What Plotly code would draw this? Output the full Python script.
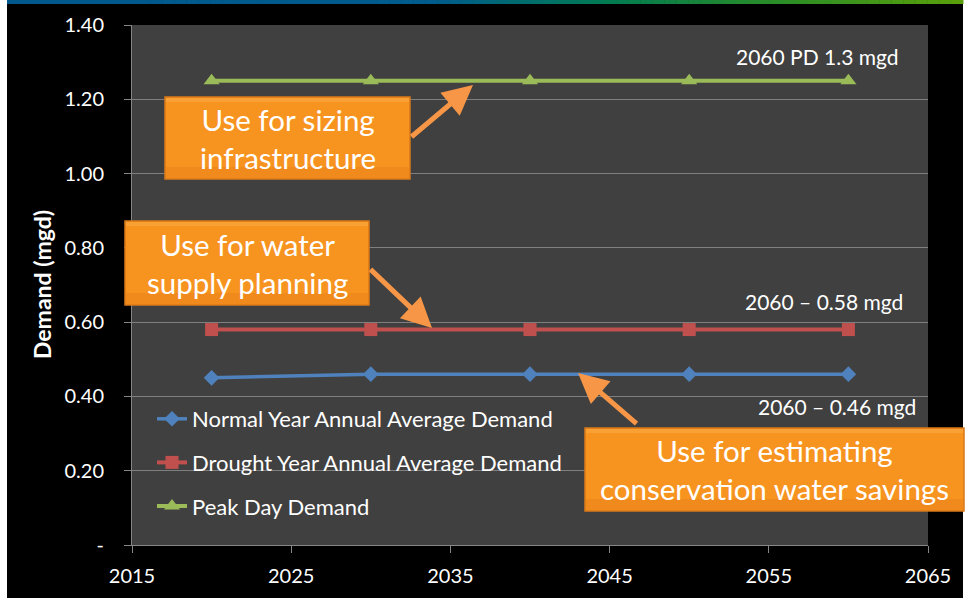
import plotly.graph_objects as go

years = [2020, 2030, 2040, 2050, 2060]
normal_year = [0.45, 0.46, 0.46, 0.46, 0.46]
drought_year = [0.58, 0.58, 0.58, 0.58, 0.58]
peak_day = [1.25, 1.25, 1.25, 1.25, 1.25]
series_names = ["Normal Year Annual Average Demand",
                "Drought Year Annual Average Demand",
                "Peak Day Demand"]
y_tickvals = [0, 0.2, 0.4, 0.6, 0.8, 1.0, 1.2, 1.4]
y_ticktext = ["-", "0.20", "0.40", "0.60", "0.80", "1.00", "1.20", "1.40"]
x_tickvals = [2015, 2025, 2035, 2045, 2055, 2065]

W, H = 969, 598
L, R, T, B = 132, 928, 25, 545
X0, X1, Y0, Y1 = 2015, 2065, 0, 1.4
FONT = "Lato"


def dx(px):
    return X0 + (px - L) / (R - L) * (X1 - X0)


def dy(py):
    return Y0 + (B - py) / (B - T) * (Y1 - Y0)


def px_(px):
    return (px - L) / (R - L)


def py_(py):
    return (B - py) / (B - T)


fig = go.Figure()
styles = [
    dict(color="#4F81BD", symbol="diamond", size=12, width=3.5),
    dict(color="#C0504D", symbol="square", size=13, width=4),
    dict(color="#9BBB59", symbol="triangle-up", size=14, width=4),
]
for i, (vals, st) in enumerate(zip([normal_year, drought_year, peak_day], styles)):
    fig.add_trace(go.Scatter(
        x=years, y=vals, name=series_names[i], mode="lines+markers",
        line=dict(color=st["color"], width=st["width"]),
        marker=dict(symbol=st["symbol"], size=st["size"], color=st["color"]),
        legendgroup=str(i),
    ))

shapes = []
# white edges
for a, b in [(0, 7), (963, 969)]:
    shapes.append(dict(type="rect", xref="paper", yref="paper",
                       x0=px_(a), x1=px_(b), y0=py_(H), y1=py_(0),
                       fillcolor="white", line=dict(width=0), layer="below"))
# top gradient bar
stops = [(0.0, (0, 88, 140)), (0.45, (0, 92, 140)), (0.62, (0, 122, 84)),
         (0.80, (40, 140, 40)), (1.0, (90, 160, 10))]


def col(t):
    for (t0, c0), (t1, c1) in zip(stops[:-1], stops[1:]):
        if t0 <= t <= t1:
            f = (t - t0) / (t1 - t0) if t1 > t0 else 0
            return "rgb(%d,%d,%d)" % tuple(round(c0[k] + f * (c1[k] - c0[k])) for k in range(3))
    return "rgb(%d,%d,%d)" % stops[-1][1]


n = 80
xs, xe = 7, 963
for k in range(n):
    a = xs + (xe - xs) * k / n
    b = xs + (xe - xs) * (k + 1) / n + 0.5
    shapes.append(dict(type="rect", xref="paper", yref="paper",
                       x0=px_(a), x1=px_(b), y0=py_(4), y1=py_(0),
                       fillcolor=col((k + 0.5) / n), line=dict(width=0)))

annotations = []
# y-axis title
annotations.append(dict(x=px_(42), y=py_(285), xref="paper", yref="paper",
                        xanchor="center", yanchor="middle",
                        text="<b>Demand (mgd)</b>", textangle=-90, showarrow=False,
                        font=dict(family=FONT, size=23, color="white")))
# value labels
for text, cx, cy in [("2060 PD 1.3 mgd", 817, 56),
                     ("2060 \u2013 0.58 mgd", 824, 301),
                     ("2060 \u2013 0.46 mgd", 837, 406)]:
    annotations.append(dict(x=dx(cx), y=dy(cy), xref="x", yref="y", text=text,
                            showarrow=False, font=dict(family=FONT, size=21, color="white")))

# arrows (head, tail)
for (hx, hy), (tx, ty) in [((473, 85), (410, 138)),
                           ((432, 328), (369, 268)),
                           ((578, 373), (638, 425))]:
    annotations.append(dict(x=dx(hx), y=dy(hy), ax=dx(tx), ay=dy(ty),
                            xref="x", yref="y", axref="x", ayref="y",
                            text="", showarrow=True, arrowhead=2, arrowsize=1.2,
                            arrowwidth=5, arrowcolor="#F79646", standoff=0))

# orange boxes
for text, (x0b, y0b, x1b, y1b) in [
    ("Use for sizing<br>infrastructure", (165, 97, 410, 179)),
    ("Use for water<br>supply planning", (125, 221, 369, 305)),
    ("Use for estimating<br>conservation water savings", (585, 428, 964, 511)),
]:
    shapes.append(dict(type="rect", xref="paper", yref="paper",
                       x0=px_(x0b), x1=px_(x1b), y0=py_(y1b), y1=py_(y0b),
                       fillcolor="#F7931F", line=dict(color="#D9781A", width=1.5)))
    shapes.append(dict(type="rect", xref="paper", yref="paper",
                       x0=px_(x0b + 1), x1=px_(x1b - 1), y0=py_(y1b - 1), y1=py_(y1b - 12),
                       fillcolor="#E9821A", line=dict(width=0), opacity=0.5))
    shapes.append(dict(type="rect", xref="paper", yref="paper",
                       x0=px_(x0b + 1), x1=px_(x1b - 1), y0=py_(y0b + 5), y1=py_(y0b + 1),
                       fillcolor="#FBA63F", line=dict(width=0), opacity=0.7))
    annotations.append(dict(x=px_((x0b + x1b) / 2), y=py_((y0b + y1b) / 2),
                            xref="paper", yref="paper", text=text, showarrow=False,
                            font=dict(family=FONT, size=29.5, color="white"),
                            align="center", xanchor="center", yanchor="middle"))

fig.update_layout(
    width=W, height=H,
    margin=dict(l=L, r=W - R, t=T, b=H - B, autoexpand=False),
    paper_bgcolor="black", plot_bgcolor="#404040",
    font=dict(family=FONT, color="white", size=20),
    showlegend=True,
    legend=dict(x=px_(152), y=py_(398), xanchor="left", yanchor="top",
                bgcolor="rgba(0,0,0,0)", font=dict(family=FONT, size=22, color="white"),
                tracegroupgap=12, itemwidth=30),
    xaxis=dict(range=[X0, X1], tickvals=x_tickvals, showgrid=False, zeroline=False,
               showline=True, linecolor="#868686", linewidth=1,
               ticks="outside", ticklen=7, tickcolor="#868686", ticklabelstandoff=6,
               tickfont=dict(family=FONT, size=20, color="white")),
    yaxis=dict(range=[Y0, Y1], tickvals=y_tickvals, ticktext=y_ticktext,
               showgrid=True, gridcolor="#7F7F7F", gridwidth=1, zeroline=False,
               showline=True, linecolor="#868686", linewidth=1,
               ticks="outside", ticklen=7, tickcolor="#868686", ticklabelstandoff=16,
               tickfont=dict(family=FONT, size=20, color="white")),
    shapes=shapes, annotations=annotations,
)

fig.write_html("out.html", config={"displayModeBar": False},
               post_script="document.body.style.margin='0';document.body.style.overflow='hidden';")
